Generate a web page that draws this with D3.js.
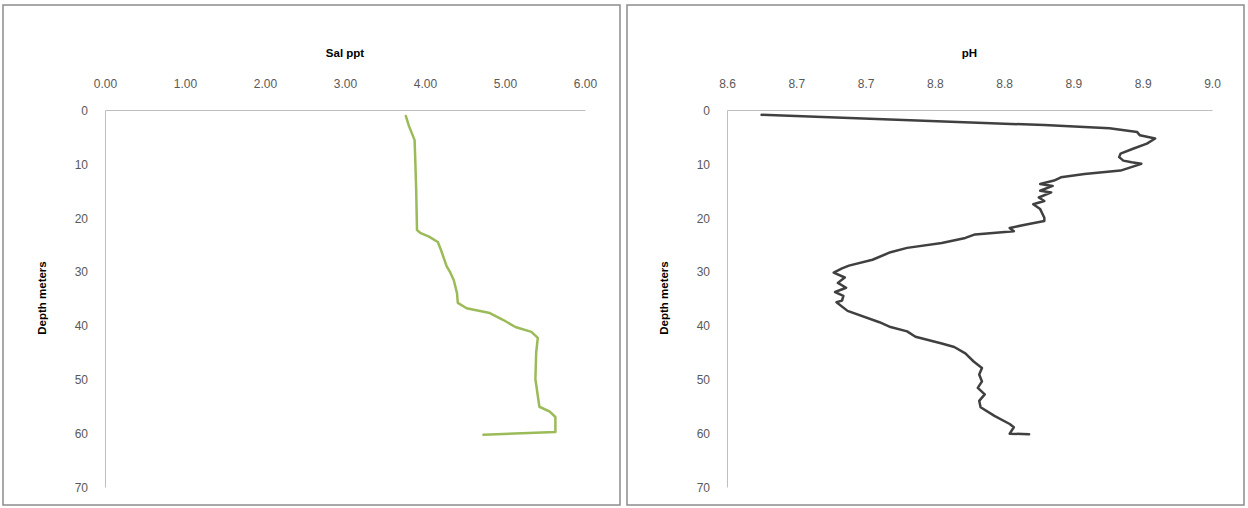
<!DOCTYPE html>
<html>
<head>
<meta charset="utf-8">
<script src="https://cdn.jsdelivr.net/npm/d3@7"></script>
<style>
  body { margin: 0; background: #fff; }
  svg { display: block; }
  .tick text { font-family: "Liberation Sans", Arial, sans-serif; font-size: 12px; fill: #595959; }
  .ttl { font-family: "Liberation Sans", Arial, sans-serif; font-size: 11.5px; font-weight: bold; fill: #000; }
</style>
</head>
<body>
<svg id="chart" width="1248" height="508"></svg>
<script>
// salinity profile: depth (m) and salinity (ppt)
const salDepth = [1.1, 3, 5.6, 10, 15, 22.3, 22.8, 23.5, 24.5, 26, 29, 30, 31.6, 34, 35.8, 36.8, 37.7, 39, 40.3, 41.2, 42.3, 45, 50, 55.1, 56, 57, 59.8, 60.3];
const salValue = [3.76, 3.8, 3.87, 3.88, 3.89, 3.9, 3.94, 4.05, 4.16, 4.2, 4.27, 4.31, 4.36, 4.4, 4.41, 4.52, 4.81, 4.98, 5.13, 5.33, 5.41, 5.39, 5.38, 5.43, 5.56, 5.63, 5.63, 4.73];

// pH profile: depth (m) and pH
const phDepth = [0.9, 2.8, 3.4, 4.1, 4.7, 5.3, 6.25, 7.2, 8.1, 8.75, 9.4, 9.7, 10, 11.25, 11.9, 12.5, 13.1, 13.75, 14.1, 15, 15.3, 16.25, 16.9, 17.5, 18.4, 20, 20.6, 21.25, 21.9, 22.5, 23.1, 23.75, 24.7, 25.6, 26.4, 27.8, 28.9, 29.4, 30.2, 31.1, 32.1, 33, 33.8, 34.5, 35.4, 35.7, 37.3, 39.4, 40.3, 41.1, 42.1, 43.35, 44, 45.2, 46.7, 47.9, 49.1, 50.4, 51.6, 52.8, 54, 55.2, 56.8, 58.3, 58.9, 60.1, 60.2];
const phValue = [8.625, 8.829, 8.876, 8.896, 8.898, 8.909, 8.903, 8.893, 8.884, 8.883, 8.886, 8.892, 8.899, 8.884, 8.858, 8.841, 8.836, 8.826, 8.835, 8.826, 8.834, 8.825, 8.829, 8.821, 8.826, 8.829, 8.829, 8.816, 8.804, 8.807, 8.779, 8.772, 8.755, 8.730, 8.718, 8.705, 8.688, 8.683, 8.677, 8.685, 8.680, 8.686, 8.678, 8.684, 8.683, 8.679, 8.687, 8.710, 8.718, 8.730, 8.736, 8.755, 8.764, 8.772, 8.778, 8.784, 8.782, 8.784, 8.781, 8.786, 8.782, 8.783, 8.793, 8.804, 8.807, 8.804, 8.818];

const depthTicks = [0, 10, 20, 30, 40, 50, 60, 70];
const salTicks = [0, 1, 2, 3, 4, 5, 6];
const phTicks = [8.6, 8.65, 8.7, 8.75, 8.8, 8.85, 8.9, 8.95];
const phTickLabels = ["8.6", "8.7", "8.7", "8.8", "8.8", "8.9", "8.9", "9.0"];

var svg = d3.select("#chart");

function panel(opt) {
  var g = svg.append("g");

  g.append("rect")
    .attr("x", opt.frameX).attr("y", 5)
    .attr("width", 617).attr("height", 500)
    .attr("fill", "#fff")
    .attr("stroke", "#8c8c8c")
    .attr("stroke-width", 1.5);

  var x = d3.scaleLinear().domain(opt.xDomain).range([opt.left, opt.right]);
  var y = d3.scaleLinear().domain([0, 70]).range([110, 487]);

  var xAxis = d3.axisTop(x)
    .tickValues(opt.xTicks)
    .tickSize(0)
    .tickPadding(22)
    .tickFormat(opt.xFormat);

  var yAxis = d3.axisLeft(y)
    .tickValues(depthTicks)
    .tickSize(0)
    .tickPadding(17)
    .tickFormat(d3.format("d"));

  var gx = g.append("g").attr("transform", "translate(0,110)").call(xAxis);
  var gy = g.append("g").attr("transform", "translate(" + opt.left + ",0)").call(yAxis);
  gx.select(".domain").attr("stroke", "#bfbfbf");
  gy.select(".domain").attr("stroke", "#bfbfbf");
  gy.selectAll(".tick text").attr("dy", "0.36em");

  g.append("text")
    .attr("class", "ttl")
    .attr("x", (opt.left + opt.right) / 2)
    .attr("y", 57)
    .attr("text-anchor", "middle")
    .text(opt.title);

  g.append("text")
    .attr("class", "ttl")
    .attr("transform", "translate(" + (opt.left - 59) + "," + 298 + ") rotate(-90)")
    .attr("text-anchor", "middle")
    .text("Depth meters");

  var pts = opt.depth.map(function (d, i) {
    return [opt.values[i], d];
  });

  var line = d3.line()
    .x(function (d) { return x(d[0]); })
    .y(function (d) { return y(d[1]); });

  g.append("path")
    .datum(pts)
    .attr("d", line)
    .attr("fill", "none")
    .attr("stroke", opt.color)
    .attr("stroke-width", 2.5)
    .attr("stroke-linejoin", "round")
    .attr("stroke-linecap", "round");
}

panel({
  frameX: 3,
  left: 105,
  right: 585,
  xDomain: [0, 6],
  xTicks: salTicks,
  xFormat: d3.format(".2f"),
  title: "Sal ppt",
  depth: salDepth,
  values: salValue,
  color: "#9bbb59"
});

panel({
  frameX: 627,
  left: 727,
  right: 1212,
  xDomain: [8.6, 8.95],
  xTicks: phTicks,
  xFormat: function (d, i) { return phTickLabels[i]; },
  title: "pH",
  depth: phDepth,
  values: phValue,
  color: "#404040"
});
</script>
</body>
</html>
